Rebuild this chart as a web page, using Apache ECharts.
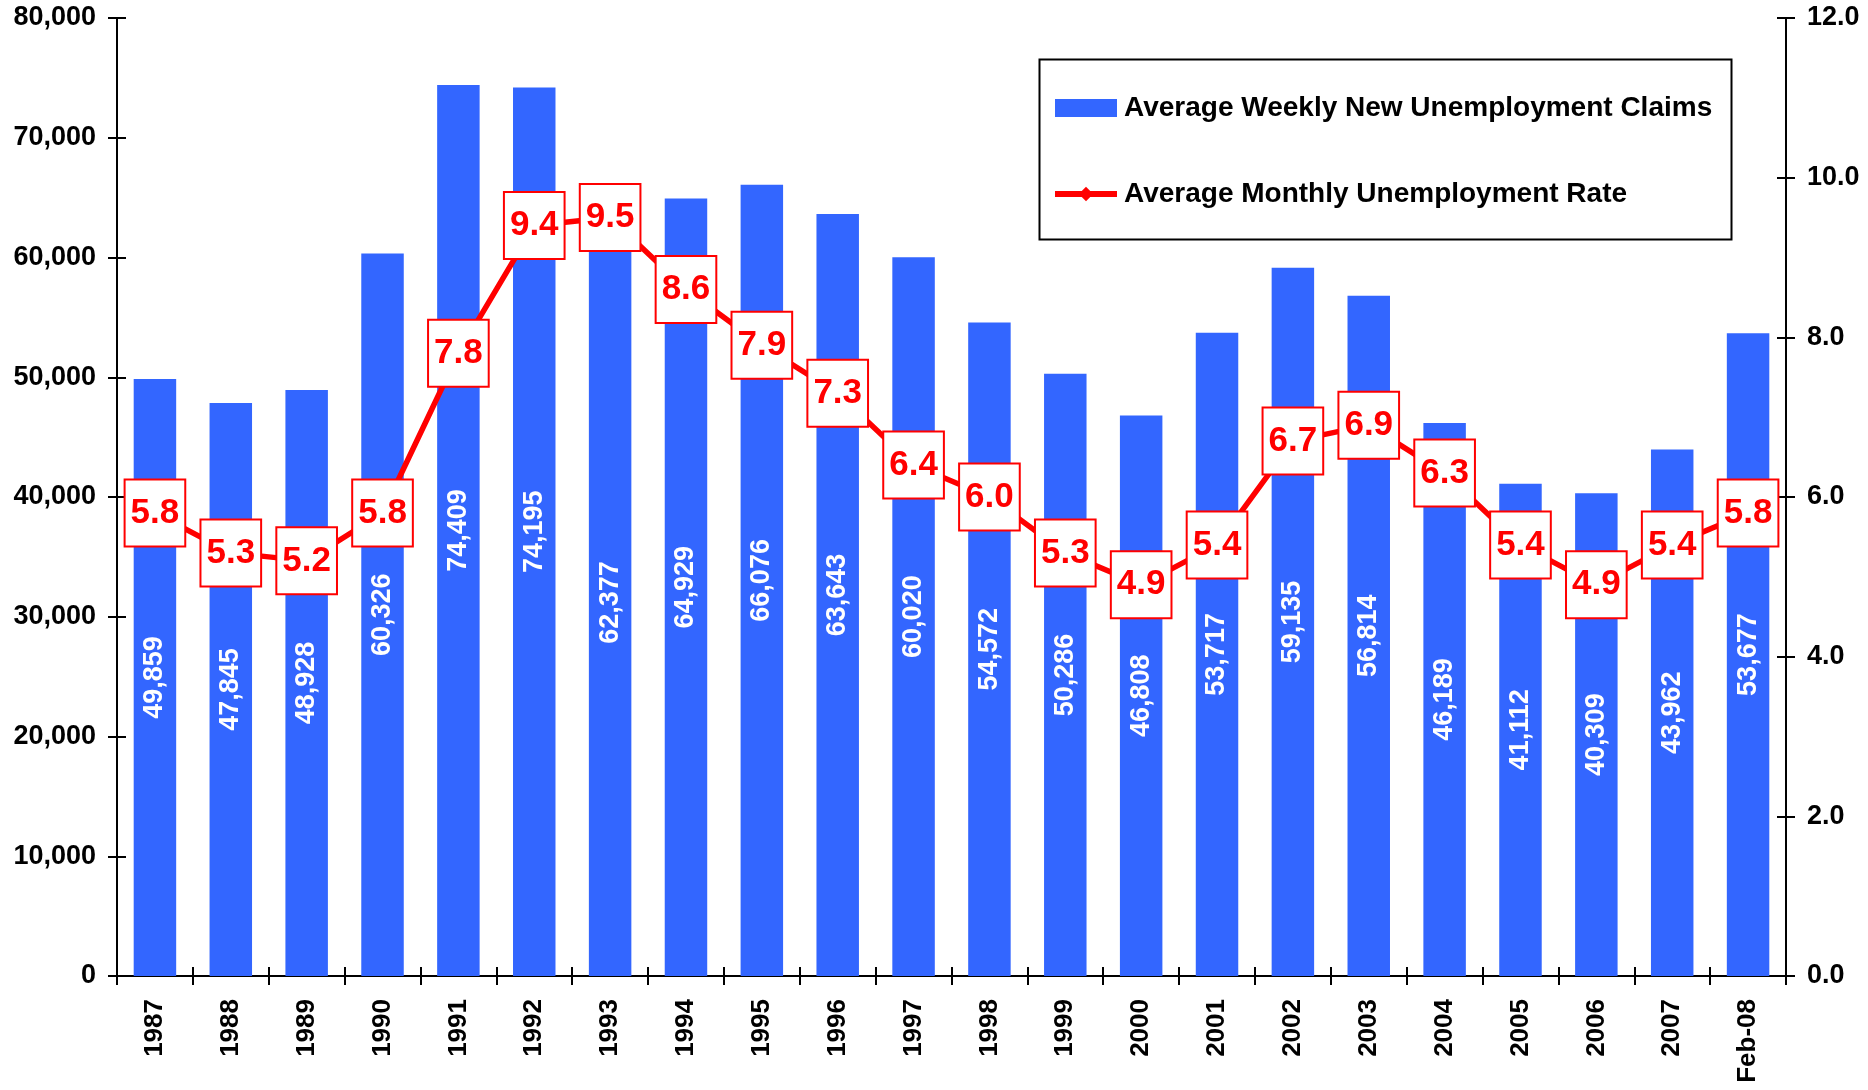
<!DOCTYPE html>
<html><head><meta charset="utf-8">
<script src="https://cdn.jsdelivr.net/npm/echarts@6/dist/echarts.min.js"></script>
<style>html,body{margin:0;padding:0;background:#fff}#c{width:1868px;height:1090px}</style>
</head><body><div id="c"></div>
<script>
const categories = ['1987','1988','1989','1990','1991','1992','1993','1994','1995','1996','1997','1998','1999','2000','2001','2002','2003','2004','2005','2006','2007','Feb-08'];
const claims = [49859,47845,48928,60326,74409,74195,62377,64929,66076,63643,60020,54572,50286,46808,53717,59135,56814,46189,41112,40309,43962,53677];
const rates = [5.8,5.3,5.2,5.8,7.8,9.4,9.5,8.6,7.9,7.3,6.4,6.0,5.3,4.9,5.4,6.7,6.9,6.3,5.4,4.9,5.4,5.8];
const leftTicks = {min:0, max:80000, interval:10000};
const rightTicks = {min:0, max:12, interval:2};

const FONT = '"Liberation Sans", Arial, sans-serif';
const chart = echarts.init(document.getElementById('c'));
const axisLine = {show:true, lineStyle:{color:'#000', width:2}};
const tickOut = {show:true, inside:false, length:9, lineStyle:{color:'#000', width:2}};
const tickIn = {show:true, inside:true, length:9, lineStyle:{color:'#000', width:2}};
chart.setOption({
  animation:false,
  backgroundColor:'#fff',
  grid:{left:117, right:82, top:18, bottom:114, containLabel:false},
  legend:{
    orient:'vertical', left:1052, top:94, padding:0, itemGap:58, itemWidth:62, itemHeight:18,
    textStyle:{fontFamily:FONT, fontWeight:'bold', fontSize:28, color:'#000', padding:[0,0,0,2]},
    data:[
      {name:'Average Weekly New Unemployment Claims', icon:'rect'},
      {name:'Average Monthly Unemployment Rate', lineStyle:{width:6, color:'#FF0000'}}
    ]
  },
  graphic:[{type:'rect', shape:{x:1039.5, y:59.5, width:692, height:180}, style:{fill:null, stroke:'#000', lineWidth:2}, z:0}],
  xAxis:[
    {type:'category', data:categories, position:'bottom', axisLine:axisLine, axisTick:tickOut,
     axisLabel:{rotate:90, margin:23, fontFamily:FONT, fontWeight:'bold', fontSize:26, color:'#000'}},
    {type:'category', data:categories, position:'bottom', axisLine:{show:false}, axisTick:tickIn, axisLabel:{show:false}}
  ],
  yAxis:[
    {type:'value', position:'left', min:leftTicks.min, max:leftTicks.max, interval:leftTicks.interval,
     splitLine:{show:false}, axisLine:axisLine, axisTick:tickOut,
     axisLabel:{margin:21, fontFamily:FONT, fontWeight:'bold', fontSize:27, color:'#000',
       formatter:v=>v.toLocaleString('en-US')}},
    {type:'value', position:'right', min:rightTicks.min, max:rightTicks.max, interval:rightTicks.interval,
     splitLine:{show:false}, axisLine:axisLine, axisTick:tickOut,
     axisLabel:{margin:21, fontFamily:FONT, fontWeight:'bold', fontSize:27, color:'#000',
       formatter:v=>v.toFixed(1)}},
    {type:'value', position:'left', min:leftTicks.min, max:leftTicks.max, interval:leftTicks.interval,
     splitLine:{show:false}, axisLine:{show:false}, axisTick:tickIn, axisLabel:{show:false}},
    {type:'value', position:'right', min:rightTicks.min, max:rightTicks.max, interval:rightTicks.interval,
     splitLine:{show:false}, axisLine:{show:false}, axisTick:tickIn, axisLabel:{show:false}}
  ],
  series:[
    {name:'Average Weekly New Unemployment Claims', type:'bar', data:claims, xAxisIndex:0, yAxisIndex:0,
     barWidth:'56%', itemStyle:{color:'#3366FF'},
     label:{show:true, position:'inside', rotate:90, color:'#fff', fontFamily:FONT, fontWeight:'bold', fontSize:27,
       formatter:p=>p.value.toLocaleString('en-US')}},
    {name:'Average Monthly Unemployment Rate', type:'line', data:rates, xAxisIndex:0, yAxisIndex:1,
     z:5, symbol:'diamond', symbolSize:20, showAllSymbol:true,
     lineStyle:{color:'#FF0000', width:5.5}, itemStyle:{color:'#FF0000'},
     label:{show:true, position:'inside', color:'#FF0000', fontFamily:FONT, fontWeight:'bold', fontSize:35,
       backgroundColor:'#fff', borderColor:'#FF0000', borderWidth:2, padding:[13,5,13,5], lineHeight:39,
       formatter:p=>p.value.toFixed(1)}}
  ]
});
</script></body></html>
